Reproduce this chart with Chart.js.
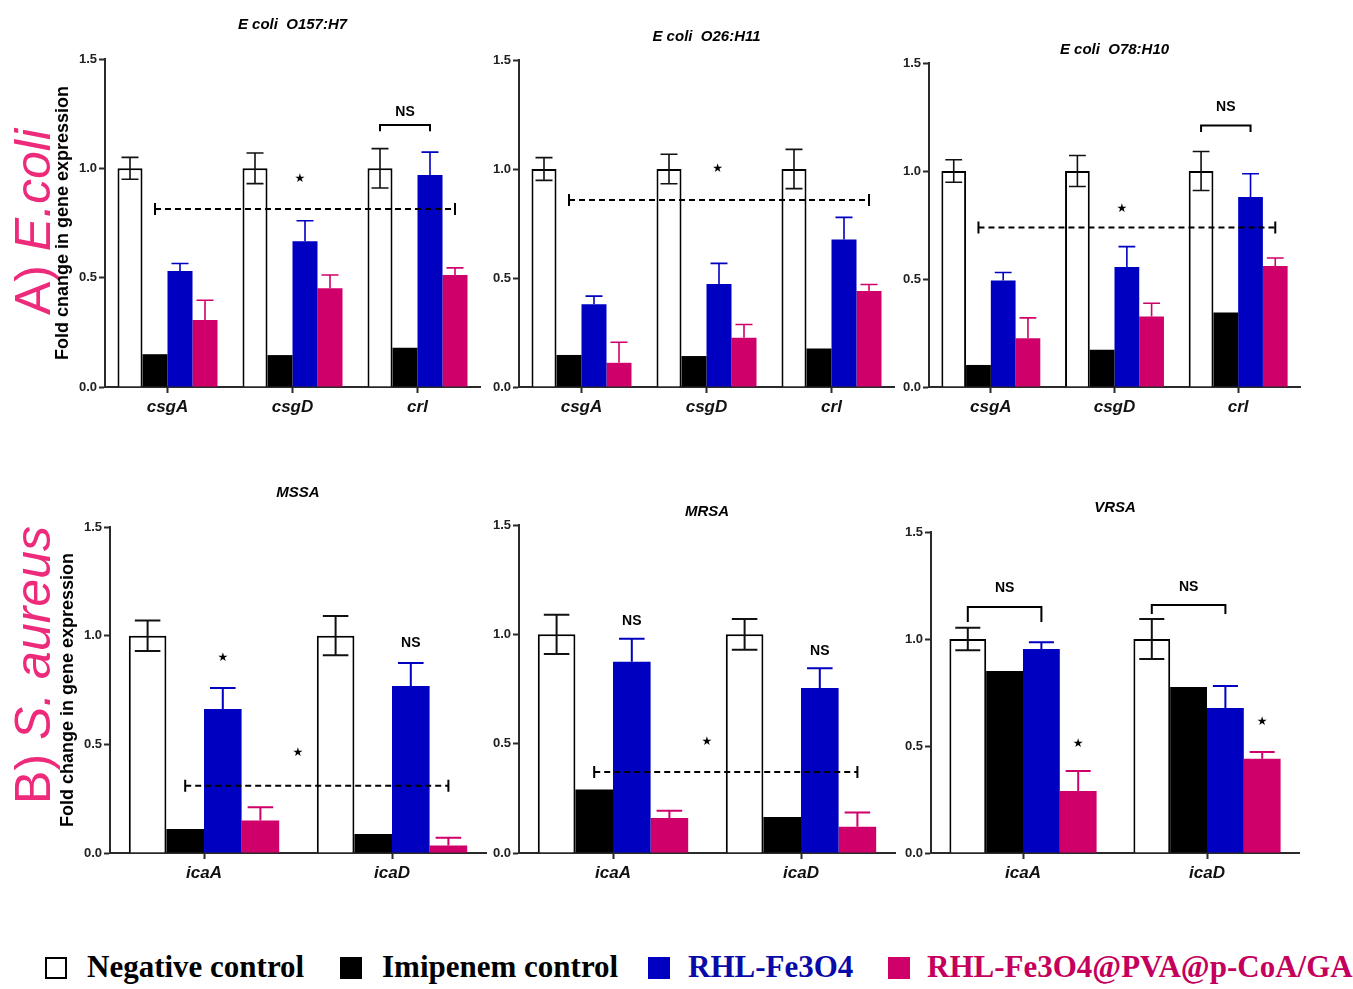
<!DOCTYPE html>
<html><head><meta charset="utf-8">
<script src="https://cdn.jsdelivr.net/npm/chart.js@4.4.0/dist/chart.umd.min.js"></script>
<style>
html,body{margin:0;padding:0;background:#fff;}
body{width:1353px;height:989px;position:relative;overflow:hidden;font-family:"Liberation Sans",Arial,sans-serif;}
canvas.panel{position:absolute;}
.side{position:absolute;white-space:nowrap;color:#ee2a7b;font-size:50px;line-height:1;transform:translate(-50%,-50%) rotate(-90deg);}
.leg{position:absolute;font-family:"Liberation Serif","Times New Roman",serif;font-weight:bold;font-size:31px;line-height:31px;white-space:nowrap;}
.box{position:absolute;width:22px;height:22px;box-sizing:border-box;}
</style></head><body>
<div class="side" style="left:33px;top:222px;">A) <i>E.coli</i></div>
<div class="side" style="left:33px;top:665px;">B) <i>S. aureus</i></div>
<div id="legend"></div>
<script>
// ---------- data ----------
const seriesNames = ['Negative control', 'Imipenem control', 'RHL-Fe3O4', 'RHL-Fe3O4@PVA@p-CoA/GA'];
const ecoliGenes = ['csgA', 'csgD', 'crl'];
const saureusGenes = ['icaA', 'icaD'];
const yTickValues = [0, 0.5, 1.0, 1.5];
const yTickLabels = ['0.0', '0.5', '1.0', '1.5'];
const panelTitles = ['E coli  O157:H7', 'E coli  O26:H11', 'E coli  O78:H10', 'MSSA', 'MRSA', 'VRSA'];
const yAxisTitles = ['Fold cnange in gene expression', 'Fold change in gene expression'];

// E. coli O157:H7
const o157Neg = [1.00, 1.00, 1.00];
const o157NegErr = [0.050, 0.070, 0.090];
const o157Imi = [0.150, 0.146, 0.180];
const o157Rhl = [0.530, 0.667, 0.970];
const o157RhlErr = [0.035, 0.093, 0.104];
const o157Nano = [0.306, 0.452, 0.512];
const o157NanoErr = [0.091, 0.060, 0.033];
// E. coli O26:H11
const o26Neg = [1.00, 1.00, 1.00];
const o26NegErr = [0.052, 0.068, 0.090];
const o26Imi = [0.147, 0.142, 0.177];
const o26Rhl = [0.380, 0.472, 0.677];
const o26RhlErr = [0.037, 0.095, 0.101];
const o26Nano = [0.111, 0.226, 0.440];
const o26NanoErr = [0.094, 0.061, 0.030];
// E. coli O78:H10
const o78Neg = [1.00, 1.00, 1.00];
const o78NegErr = [0.052, 0.072, 0.090];
const o78Imi = [0.102, 0.172, 0.345];
const o78Rhl = [0.493, 0.555, 0.880];
const o78RhlErr = [0.037, 0.095, 0.107];
const o78Nano = [0.226, 0.326, 0.560];
const o78NanoErr = [0.094, 0.062, 0.037];
// MSSA
const mssaNeg = [1.00, 1.00];
const mssaNegErr = [0.070, 0.090];
const mssaImi = [0.110, 0.087];
const mssaRhl = [0.663, 0.768];
const mssaRhlErr = [0.096, 0.106];
const mssaNano = [0.150, 0.035];
const mssaNanoErr = [0.060, 0.035];
// MRSA
const mrsaNeg = [1.00, 1.00];
const mrsaNegErr = [0.090, 0.070];
const mrsaImi = [0.290, 0.165];
const mrsaRhl = [0.875, 0.755];
const mrsaRhlErr = [0.105, 0.090];
const mrsaNano = [0.160, 0.120];
const mrsaNanoErr = [0.033, 0.065];
// VRSA
const vrsaNeg = [1.00, 1.00];
const vrsaNegErr = [0.052, 0.093];
const vrsaImi = [0.850, 0.776];
const vrsaRhl = [0.953, 0.677];
const vrsaRhlErr = [0.032, 0.103];
const vrsaNano = [0.290, 0.440];
const vrsaNanoErr = [0.093, 0.032];

// significance marks
// span: [y, fromCategory, fromSeries, toCategory, toSeries]
// stars: [categoryPosition, y]
// brackets: [category, fromSeries, toSeries, y, tickEndY, labelY]
// barLabels: [category, series, y, text]
const o157Span = [0.814, 0, 1, 2, 3];
const o157Stars = [[1.06, 0.95]];
const o157Brackets = [[2, 0, 2, 1.198, 1.170, 1.257]];
const o26Span = [0.858, 0, 1, 2, 3];
const o26Stars = [[1.09, 1.00]];
const o78Span = [0.738, 0, 1, 2, 3];
const o78Stars = [[1.06, 0.826]];
const o78Brackets = [[2, 0, 2, 1.211, 1.180, 1.295]];
const mssaSpan = [0.31, 0, 1, 1, 3];
const mssaStars = [[0.5, 0.46]];
const mssaBarLabels = [[0, 2, 0.897, '★'], [1, 2, 0.966, 'NS']];
const mrsaSpan = [0.37, 0, 1, 1, 3];
const mrsaStars = [[0.5, 0.51]];
const mrsaBarLabels = [[0, 2, 1.06, 'NS'], [1, 2, 0.924, 'NS']];
const vrsaBrackets = [[0, 0, 2, 1.150, 1.080, 1.238], [1, 0, 2, 1.159, 1.117, 1.243]];
const vrsaBarLabels = [[0, 3, 0.51, '★'], [1, 3, 0.612, '★']];

// ---------- styles ----------
const fillColors = ['#ffffff', '#000000', '#0000c0', '#d0006a'];
const errColors = ['#111111', '#000000', '#0000c0', '#d0006a'];
const legendTextColors = ['#000000', '#000000', '#0a0aa8', '#c4005c'];
const AXIS = '#2a2a2a';

const panels = [
  {title: panelTitles[0], labels: ecoliGenes, vals: [o157Neg, o157Imi, o157Rhl, o157Nano], errs: [o157NegErr, null, o157RhlErr, o157NanoErr], span: o157Span, stars: o157Stars, brackets: o157Brackets, barLabels: [], yTitle: yAxisTitles[0],
   L: 105, T: 59, R: 480, B: 387, titleDy: -34, errW: 1.6},
  {title: panelTitles[1], labels: ecoliGenes, vals: [o26Neg, o26Imi, o26Rhl, o26Nano], errs: [o26NegErr, null, o26RhlErr, o26NanoErr], span: o26Span, stars: o26Stars, brackets: [], barLabels: [], yTitle: null,
   L: 519, T: 60, R: 894, B: 387, titleDy: -23, errW: 1.6},
  {title: panelTitles[2], labels: ecoliGenes, vals: [o78Neg, o78Imi, o78Rhl, o78Nano], errs: [o78NegErr, null, o78RhlErr, o78NanoErr], span: o78Span, stars: o78Stars, brackets: o78Brackets, barLabels: [], yTitle: null,
   L: 929, T: 63, R: 1300, B: 387, titleDy: -13, errW: 1.6},
  {title: panelTitles[3], labels: saureusGenes, vals: [mssaNeg, mssaImi, mssaRhl, mssaNano], errs: [mssaNegErr, null, mssaRhlErr, mssaNanoErr], span: mssaSpan, stars: mssaStars, brackets: [], barLabels: mssaBarLabels, yTitle: yAxisTitles[1],
   L: 110, T: 527, R: 486, B: 853, titleDy: -34, errW: 2},
  {title: panelTitles[4], labels: saureusGenes, vals: [mrsaNeg, mrsaImi, mrsaRhl, mrsaNano], errs: [mrsaNegErr, null, mrsaRhlErr, mrsaNanoErr], span: mrsaSpan, stars: mrsaStars, brackets: [], barLabels: mrsaBarLabels, yTitle: null,
   L: 519, T: 525, R: 895, B: 853, titleDy: -13, errW: 2},
  {title: panelTitles[5], labels: saureusGenes, vals: [vrsaNeg, vrsaImi, vrsaRhl, vrsaNano], errs: [vrsaNegErr, null, vrsaRhlErr, vrsaNanoErr], span: null, stars: [], brackets: vrsaBrackets, barLabels: vrsaBarLabels, yTitle: null,
   L: 931, T: 532, R: 1299, B: 853, titleDy: -24, errW: 2}
];

const annotPlugin = {
  id: 'annot',
  afterDatasetsDraw(chart) {
    const p = chart.options.plugins.annot;
    const {ctx, chartArea} = chart;
    const xs = chart.scales.x, ys = chart.scales.y;
    const barAt = (cat, s) => chart.getDatasetMeta(s).data[cat];
    ctx.save();
    // error bars
    p.errs.forEach((errs, di) => {
      if (!errs) return;
      const meta = chart.getDatasetMeta(di);
      const vals = chart.data.datasets[di].data;
      ctx.strokeStyle = errColors[di];
      ctx.lineWidth = p.errW;
      meta.data.forEach((bar, j) => {
        const e = errs[j];
        if (!e) return;
        const v = vals[j];
        const sym = di === 0;
        const top = ys.getPixelForValue(v + e);
        const bot = sym ? ys.getPixelForValue(v - e) : bar.y;
        const hw = bar.width * 0.34;
        ctx.beginPath();
        ctx.moveTo(bar.x, top); ctx.lineTo(bar.x, bot);
        ctx.moveTo(bar.x - hw, top); ctx.lineTo(bar.x + hw, top);
        if (sym) { ctx.moveTo(bar.x - hw, bot); ctx.lineTo(bar.x + hw, bot); }
        ctx.stroke();
      });
    });
    ctx.fillStyle = '#000';
    ctx.strokeStyle = '#000';
    // dashed span
    if (p.span) {
      const [yv, c0, s0, c1, s1] = p.span;
      const x0 = barAt(c0, s0).x, x1 = barAt(c1, s1).x, yp = ys.getPixelForValue(yv);
      ctx.lineWidth = 2;
      ctx.setLineDash([6, 4]);
      ctx.beginPath(); ctx.moveTo(x0, yp); ctx.lineTo(x1, yp); ctx.stroke();
      ctx.setLineDash([]);
      ctx.beginPath();
      ctx.moveTo(x0, yp - 6); ctx.lineTo(x0, yp + 6);
      ctx.moveTo(x1, yp - 6); ctx.lineTo(x1, yp + 6);
      ctx.stroke();
    }
    // stars
    ctx.textAlign = 'center';
    ctx.textBaseline = 'middle';
    const drawMark = (txt, x, y) => {
      if (txt === '★') ctx.font = '12px "DejaVu Sans"';
      else ctx.font = 'bold 14px "Liberation Sans", Arial';
      ctx.fillText(txt, x, y);
    };
    p.stars.forEach(([pos, yv]) => drawMark('★', xs.getPixelForValue(pos), ys.getPixelForValue(yv)));
    // brackets
    p.brackets.forEach(([cat, s0, s1, yv, ye, yl]) => {
      const x0 = barAt(cat, s0).x, x1 = barAt(cat, s1).x;
      const yp = ys.getPixelForValue(yv), yt = ys.getPixelForValue(ye);
      ctx.lineWidth = 2;
      ctx.beginPath();
      ctx.moveTo(x0, yt); ctx.lineTo(x0, yp); ctx.lineTo(x1, yp); ctx.lineTo(x1, yt);
      ctx.stroke();
      drawMark('NS', (x0 + x1) / 2, ys.getPixelForValue(yl));
    });
    // labels above bars
    p.barLabels.forEach(([cat, s, yv, txt]) => drawMark(txt, barAt(cat, s).x, ys.getPixelForValue(yv)));
    // panel title
    ctx.font = 'italic bold 15px "Liberation Sans", Arial';
    ctx.fillText(p.title, (chartArea.left + chartArea.right) / 2, chartArea.top + p.titleDy);
    // y axis title
    if (p.yTitle) {
      ctx.save();
      ctx.translate(chartArea.left - 42, (chartArea.top + chartArea.bottom) / 2);
      ctx.rotate(-Math.PI / 2);
      ctx.font = 'bold 18px "Liberation Sans", Arial';
      ctx.fillText(p.yTitle, 0, 0);
      ctx.restore();
    }
    ctx.restore();
  }
};

const YW = 40, XH = 35, PADL = 100, PADT = 62, PADR = 12, PADB = 45;
panels.forEach((pn, idx) => {
  const cv = document.createElement('canvas');
  cv.className = 'panel';
  const x0 = pn.L - PADL, y0 = pn.T - PADT;
  const w = pn.R - x0 + PADR, h = pn.B - y0 + PADB;
  cv.width = w; cv.height = h;
  cv.style.left = x0 + 'px'; cv.style.top = y0 + 'px';
  cv.style.width = w + 'px'; cv.style.height = h + 'px';
  document.body.appendChild(cv);
  new Chart(cv, {
    type: 'bar',
    data: {
      labels: pn.labels,
      datasets: pn.vals.map((v, i) => ({
        label: seriesNames[i],
        data: v,
        backgroundColor: fillColors[i],
        borderColor: i === 0 ? '#000' : fillColors[i],
        borderWidth: i === 0 ? 2 : 0,
        borderSkipped: 'start',
        categoryPercentage: 0.8,
        barPercentage: 1.0
      }))
    },
    plugins: [annotPlugin],
    options: {
      responsive: false,
      animation: false,
      devicePixelRatio: 1,
      layout: {padding: {left: PADL - YW, top: PADT, right: PADR, bottom: PADB - XH}},
      plugins: {
        legend: {display: false},
        tooltip: {enabled: false},
        annot: {errs: pn.errs, span: pn.span, stars: pn.stars, brackets: pn.brackets, barLabels: pn.barLabels,
                title: pn.title, titleDy: pn.titleDy, yTitle: pn.yTitle, errW: pn.errW}
      },
      scales: {
        x: {
          type: 'category',
          offset: true,
          afterFit(s) { s.height = XH; },
          grid: {display: true, drawOnChartArea: false, drawTicks: true, tickLength: 6, tickColor: AXIS, tickWidth: 2, offset: false},
          border: {display: true, color: AXIS, width: 2},
          ticks: {color: '#111', padding: 4, font: {family: '"Liberation Sans", Arial', size: 17, weight: 'bold', style: 'italic'}}
        },
        y: {
          min: 0, max: 1.5,
          afterFit(s) { s.width = YW; },
          afterBuildTicks(s) { s.ticks = yTickValues.map(v => ({value: v})); },
          grid: {display: true, drawOnChartArea: false, drawTicks: true, tickLength: 6, tickColor: AXIS, tickWidth: 2},
          border: {display: true, color: AXIS, width: 2},
          ticks: {color: '#222', padding: 2, font: {family: '"Liberation Sans", Arial', size: 13, weight: 'bold'},
                  callback: (v, i) => yTickLabels[i]}
        }
      }
    }
  });
});

// ---------- legend ----------
const legendBoxX = [45, 340, 648, 888];
const legendTextX = [87, 382, 688, 927];
const lg = document.getElementById('legend');
seriesNames.forEach((name, i) => {
  const b = document.createElement('div');
  b.className = 'box';
  b.style.left = legendBoxX[i] + 'px'; b.style.top = '957px';
  b.style.background = fillColors[i];
  if (i === 0) b.style.border = '2px solid #000';
  lg.appendChild(b);
  const t = document.createElement('div');
  t.className = 'leg';
  t.style.left = legendTextX[i] + 'px'; t.style.top = '951px';
  t.style.color = legendTextColors[i];
  t.textContent = name;
  lg.appendChild(t);
});
</script>
</body></html>
